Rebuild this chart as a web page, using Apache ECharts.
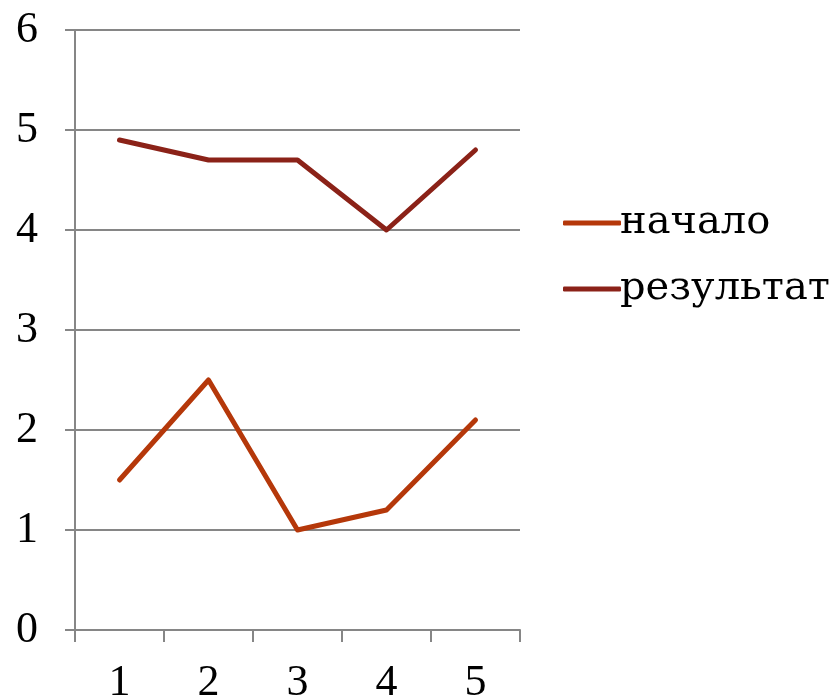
<!DOCTYPE html>
<html><head><meta charset="utf-8">
<script src="https://cdn.jsdelivr.net/npm/echarts@6/dist/echarts.min.js"></script>
<style>html,body{margin:0;padding:0;background:#fff}#c{width:839px;height:700px}</style>
</head><body><div id="c"></div>
<script>
var categories = ['1','2','3','4','5'];
var nachalo = [1.5, 2.5, 1.0, 1.2, 2.1];
var rezultat = [4.9, 4.7, 4.7, 4.0, 4.8];
var seriesNames = ['начало','результат'];
var font = 'Liberation Serif';
var chart = echarts.init(document.getElementById('c'));
chart.setOption({
  animation:false,
  grid:{left:75,right:319,top:30,bottom:70,containLabel:false,outerBoundsMode:'none'},
  legend:{
    orient:'vertical', left:558, top:198, itemGap:26,
    itemWidth:58, itemHeight:5, icon:'roundRect',
    textStyle:{fontFamily:'DejaVu Serif',fontSize:40,color:'#000',padding:[0,0,0,-6]},
    data:seriesNames
  },
  xAxis:{
    type:'category', data:categories, boundaryGap:true,
    axisLine:{lineStyle:{color:'#868686',width:2}},
    axisTick:{show:true,length:12,lineStyle:{color:'#868686',width:2}},
    axisLabel:{fontFamily:font,fontSize:44,color:'#000',margin:31}
  },
  yAxis:{
    type:'value', min:0, max:6, interval:1,
    axisLine:{show:true,lineStyle:{color:'#868686',width:2}},
    axisTick:{show:true,length:10,inside:false,lineStyle:{color:'#868686',width:2}},
    splitLine:{lineStyle:{color:'#868686',width:2}},
    axisLabel:{fontFamily:font,fontSize:44,color:'#000',margin:37}
  },
  series:[
    {name:seriesNames[0],type:'line',data:nachalo,symbol:'none',
     lineStyle:{color:'#B5380A',width:5,cap:'round',join:'round'},itemStyle:{color:'#B5380A'}},
    {name:seriesNames[1],type:'line',data:rezultat,symbol:'none',
     lineStyle:{color:'#8B2218',width:5,cap:'round',join:'round'},itemStyle:{color:'#8B2218'}}
  ]
});
</script></body></html>
